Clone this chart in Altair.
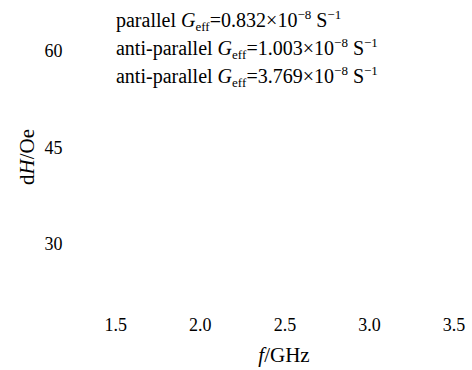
import altair as alt
import pandas as pd

# ---- content -------------------------------------------------------------
freq_ticks = [1.5, 2.0, 2.5, 3.0, 3.5]          # f / GHz
dh_ticks = [30, 45, 60]                          # dH / Oe
configs = ["parallel", "anti-parallel", "anti-parallel"]
g_eff = ["0.832", "1.003", "3.769"]              # mantissa of G_eff
g_exp = ["−8", "−8", "−8"]                       # power of ten

# ---- layout / style -------------------------------------------------------
FONT = "Liberation Serif"
INK = "#000000"
W, H = 389, 309                  # plot area
PAD_L, PAD_T = 73, 0
FREQ_DOMAIN = [1.25, 3.55]
DH_DOMAIN = [20, 68]
MAIN, SMALL = 20, 13             # legend text sizes
TICK_SIZE = 18
TITLE_SIZE = 21

# Times / Liberation Serif advance widths (1/1000 em)
ROMAN = {" ": 250, "a": 444, "n": 500, "t": 278, "i": 278, "-": 333, "p": 500,
         "r": 333, "l": 278, "e": 444, "f": 333, "=": 564, ".": 250, "×": 564,
         "−": 564, "S": 556, "G": 722, "H": 722, "O": 722, "z": 444, "/": 278,
         "d": 500}
ITALIC = {"G": 722, "H": 722, "f": 278}


def text_width(s, size, italic=False):
    table = ITALIC if italic else ROMAN
    return sum(table.get(c, ROMAN.get(c, 500)) for c in s) * size / 1000.0


px_per_f = W / (FREQ_DOMAIN[1] - FREQ_DOMAIN[0])
px_per_dh = H / (DH_DOMAIN[1] - DH_DOMAIN[0])

# legend lines: pieces of rich text laid out along each baseline
# (a gap entry only advances the pen, since SVG collapses edge whitespace)
rows = []
first_baseline, line_gap = 27.0, 28.0
for i, (cfg, g, e) in enumerate(zip(configs, g_eff, g_exp)):
    pieces = [(cfg, "main"), (" ", "gap"), ("G", "ital"), ("eff", "sub"),
              ("=" + g + "×10", "main"), (e, "sup"), (" ", "gap"),
              ("S", "main"), ("−1", "sup")]
    baseline_px = first_baseline + i * line_gap
    dh_pos = DH_DOMAIN[1] - baseline_px / px_per_dh
    offset = 0.7
    for txt, kind in pieces:
        size = SMALL if kind in ("sub", "sup") else MAIN
        if kind != "gap":
            rows.append({"f": freq_ticks[0] + offset / px_per_f, "dH": dh_pos,
                         "label": txt, "kind": kind})
        offset += text_width(txt, size, italic=(kind == "ital"))
legend_df = pd.DataFrame(rows)

x_enc = alt.X("f:Q", scale=alt.Scale(domain=FREQ_DOMAIN, nice=False, zero=False),
              axis=alt.Axis(values=freq_ticks, format=".1f", title=None, grid=False,
                            domain=False, ticks=False, tickSize=0, labelPadding=7.5,
                            labelFont=FONT, labelFontSize=TICK_SIZE, labelColor=INK,
                            labelBaseline="top"))
y_enc = alt.Y("dH:Q", scale=alt.Scale(domain=DH_DOMAIN, nice=False, zero=False),
              axis=alt.Axis(values=dh_ticks, title=None, grid=False, domain=False,
                            ticks=False, tickSize=0, labelPadding=11,
                            labelFont=FONT, labelFontSize=TICK_SIZE, labelColor=INK))

base = alt.Chart(legend_df).encode(x=x_enc, y=y_enc, text="label:N")


def piece_layer(kind, size, dy, style="normal"):
    return base.transform_filter(alt.datum.kind == kind).mark_text(
        align="left", baseline="alphabetic", font=FONT, fontSize=size,
        fontStyle=style, color=INK, dy=dy)


legend = (piece_layer("main", MAIN, 0)
          + piece_layer("ital", MAIN, 0, "italic")
          + piece_layer("sub", SMALL, 4)
          + piece_layer("sup", SMALL, -8))


# axis titles with italic symbols
def title_piece(txt, x, y, italic=False, angle=0):
    return alt.Chart(pd.DataFrame({"t": [txt]})).mark_text(
        align="left", baseline="alphabetic", font=FONT, fontSize=TITLE_SIZE,
        fontStyle="italic" if italic else "normal", color=INK, angle=angle
    ).encode(x=alt.value(x), y=alt.value(y), text="t:N")


xt_w = text_width("f", TITLE_SIZE, True) + text_width("/GHz", TITLE_SIZE)
xt_x = 284 - PAD_L - xt_w / 2
xt_y = 362 - PAD_T
x_title = (title_piece("f", xt_x, xt_y, italic=True)
           + title_piece("/GHz", xt_x + text_width("f", TITLE_SIZE, True), xt_y))

yt_len = text_width("d", TITLE_SIZE) + text_width("H", TITLE_SIZE, True) + text_width("/Oe", TITLE_SIZE)
yt_x = 34 - PAD_L
yt_start = 157 + yt_len / 2 - PAD_T
y1 = yt_start - text_width("d", TITLE_SIZE)
y2 = y1 - text_width("H", TITLE_SIZE, True)
y_title = (title_piece("d", yt_x, yt_start, angle=270)
           + title_piece("H", yt_x, y1, italic=True, angle=270)
           + title_piece("/Oe", yt_x, y2, angle=270))

chart = alt.layer(legend, x_title, y_title).properties(
    width=W, height=H,
    autosize=alt.AutoSizeParams(type="none"),
    padding={"left": PAD_L, "top": PAD_T, "right": 472 - PAD_L - W, "bottom": 370 - PAD_T - H},
).configure(background="white", view=alt.ViewConfig(stroke="transparent", strokeWidth=0))

chart.save("out.html", embed_options={"renderer": "svg", "actions": False})
